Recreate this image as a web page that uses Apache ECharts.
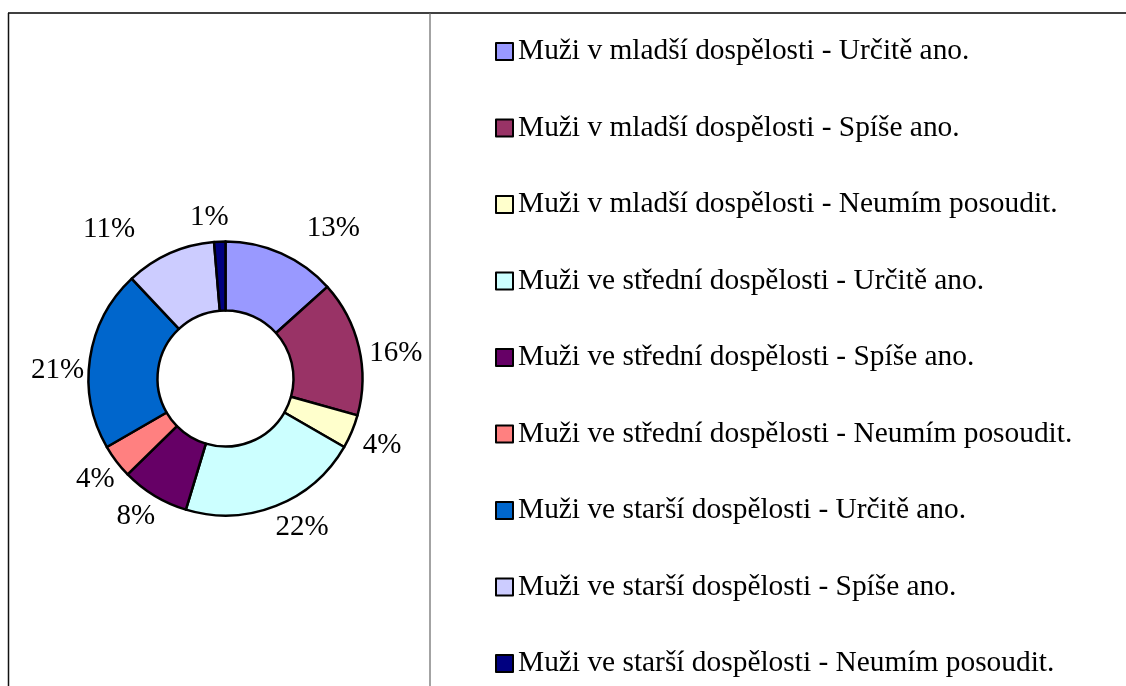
<!DOCTYPE html>
<html>
<head>
<meta charset="utf-8">
<script src="https://cdn.jsdelivr.net/npm/echarts@6/dist/echarts.min.js"></script>
<style>
  html, body { margin: 0; padding: 0; background: #fff; }
  #main { width: 1126px; height: 686px; }
</style>
</head>
<body>
<div id="main"></div>
<script>
// odpovědi (počty) a popisky v procentech
var categories = [
    'Muži v mladší dospělosti - Určitě ano.',
    'Muži v mladší dospělosti - Spíše ano.',
    'Muži v mladší dospělosti - Neumím posoudit.',
    'Muži ve střední dospělosti - Určitě ano.',
    'Muži ve střední dospělosti - Spíše ano.',
    'Muži ve střední dospělosti - Neumím posoudit.',
    'Muži ve starší dospělosti - Určitě ano.',
    'Muži ve starší dospělosti - Spíše ano.',
    'Muži ve starší dospělosti - Neumím posoudit.'
];
var counts = [10, 12, 3, 16, 6, 3, 16, 8, 1];
var pctLabels = ['13%', '16%', '4%', '22%', '8%', '4%', '21%', '11%', '1%'];
var colors = ['#9999FF', '#993366', '#FFFFCC', '#CCFFFF', '#660066', '#FF8080', '#0066CC', '#CCCCFF', '#000080'];

var myChart = echarts.init(document.getElementById('main'));

var pieData = [];
for (var i = 0; i < categories.length; i++) {
    pieData.push({ name: categories[i], value: counts[i] });
}

var serif = '"Liberation Serif", "DejaVu Serif", serif';

// posun popisků, aby seděly jako v originále (Excel)
var labelNudge = [[10, -1], [-20, 12], [-18, 4], [-15, -3], [19, -2], [24, 2], [25, 16], [-19, 0], [15, 2]];

var option = {
    animation: false,
    color: colors,
    legend: {
        orient: 'vertical',
        left: 495,
        top: 37,
        padding: 0,
        itemWidth: 17,
        itemHeight: 17,
        itemGap: 47.5,
        icon: 'rect',
        textStyle: {
            fontFamily: serif,
            fontSize: 29.4,
            lineHeight: 29,
            color: '#000'
        },
        data: categories
    },
    graphic: [
        { type: 'line', shape: { x1: 8, y1: 13, x2: 1126, y2: 13 }, style: { stroke: '#000', lineWidth: 1.5 } },
        { type: 'line', shape: { x1: 8.5, y1: 13, x2: 8.5, y2: 686 }, style: { stroke: '#111', lineWidth: 1.5 } },
        { type: 'line', shape: { x1: 430, y1: 13, x2: 430, y2: 686 }, style: { stroke: '#666', lineWidth: 1.2 } }
    ],
    series: [{
        type: 'pie',
        center: [225.5, 378.5],
        radius: [68, 137],
        startAngle: 90,
        clockwise: true,
        avoidLabelOverlap: false,
        itemStyle: {
            borderColor: '#000',
            borderWidth: 2.5
        },
        label: {
            show: true,
            position: 'outside',
            fontFamily: serif,
            fontSize: 29,
            color: '#000',
            formatter: function (p) {
                return pctLabels[p.dataIndex];
            }
        },
        labelLine: { show: false, length: 26, length2: 0 },
        labelLayout: function (params) {
            var n = labelNudge[params.dataIndex];
            return { dx: n[0], dy: n[1] };
        },
        emphasis: { disabled: true },
        data: pieData
    }]
};
myChart.setOption(option);
</script>
</body>
</html>
